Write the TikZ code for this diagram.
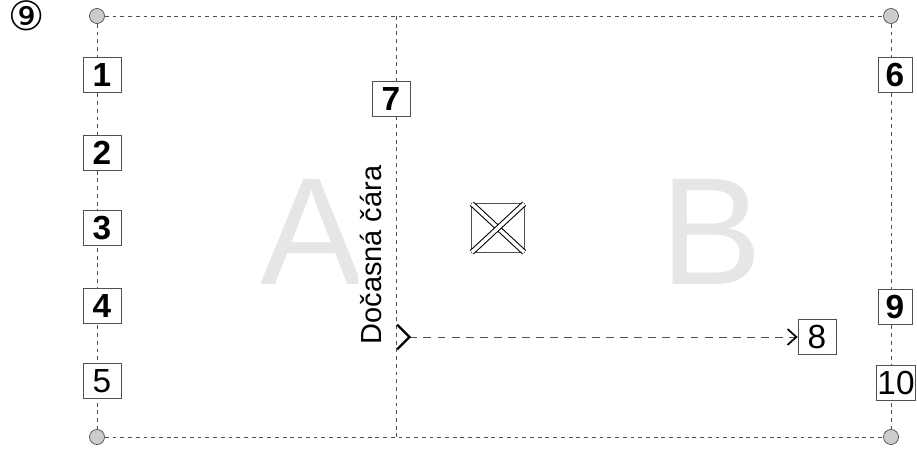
\documentclass[tikz,border=0pt]{standalone}
\usepackage{fontspec}
\setmainfont{Liberation Sans}
\newfontfamily\symfont{DejaVu Sans}
\usetikzlibrary{arrows.meta,positioning,backgrounds}
\pgfdeclarelayer{edgelayer}
\pgfdeclarelayer{nodelayer}
\pgfsetlayers{background,edgelayer,main,nodelayer}
\definecolor{linegray}{RGB}{80,80,80}
\definecolor{dotgray}{RGB}{204,204,204}
\definecolor{letgray}{RGB}{230,230,230}
\tikzstyle{corner}=[circle,draw=linegray,fill=dotgray,minimum size=0.30cm,inner sep=0pt]
\tikzstyle{numbox}=[draw=linegray,fill=white,minimum width=0.76cm,minimum height=0.70cm,inner sep=0pt,font=\fontsize{19}{19}\selectfont\bfseries]
\tikzstyle{plainbox}=[numbox,font=\fontsize{19}{19}\selectfont]
\tikzstyle{border}=[linegray,dash pattern=on 2.2pt off 2.2pt,line width=0.55pt]
\tikzstyle{bigletter}=[letgray,font=\fontsize{87}{87}\selectfont]
\tikzstyle{route}=[linegray,dash pattern=on 4.5pt off 3.5pt,line width=0.55pt]
\begin{document}
\begin{tikzpicture}[x=0.02cm,y=-0.02cm]
	\useasboundingbox (0,0) rectangle (917,449);
	% background letters
	\node [bigletter] (la) at (311,232) {A};
	\node [bigletter] (lb) at (711,232) {B};
	\begin{pgfonlayer}{nodelayer}
		\node [corner] (c1) at (97,16) {};
		\node [corner] (c2) at (891,16) {};
		\node [corner] (c3) at (97,437) {};
		\node [corner] (c4) at (891,437) {};
		\node [numbox] (n1) at (102,75) {1};
		\node [numbox] (n2) at (102,153) {2};
		\node [numbox] (n3) at (102,228) {3};
		\node [numbox] (n4) at (102,306) {4};
		\node [plainbox] (n5) at (102,381) {5};
		\node [numbox,minimum width=0.68cm] (n6) at (895,75) {6};
		\node [numbox] (n7) at (391,99) {7};
		\node [plainbox] (n8) at (817,337) {8};
		\node [numbox,minimum width=0.68cm] (n9) at (895,307) {9};
		\node [plainbox,minimum width=0.78cm] (n10) at (896,383) {10};
		\node [font=\symfont\fontsize{23}{23}\selectfont] (mark) at (27,16) {⑨};
		\node [draw=linegray,line width=1.1pt,fill=white,minimum width=1.06cm,minimum height=0.98cm,inner sep=0pt] (cross) at (498,228) {};
		\node [rotate=90,fill=white,inner sep=1pt,font=\fontsize{16.5}{16.5}\selectfont] (tmp) at (371,255) {Dočasná čára};
	\end{pgfonlayer}
	\coordinate (top) at (396,16);
	\coordinate (bot) at (396,437);
	\coordinate (start) at (396,337);
	\begin{pgfonlayer}{edgelayer}
		\draw[border] (c1) -- (c2);
		\draw[border] (c3) -- (c4);
		\draw[border] (c1) -- (c3);
		\draw[border] (c2) -- (c4);
		\draw[border] (top) -- (bot);
		\draw[route,{Straight Barb[reversed,length=7pt,width=14pt,line width=1.3pt,black]}-{Straight Barb[length=5pt,width=9pt,line width=1pt,black]}] (start) -- (n8.west);
	\end{pgfonlayer}
	\begin{pgfonlayer}{nodelayer}
		\draw[black,double=white,double distance=2pt,line width=0.6pt,shorten <=1pt,shorten >=1pt] (cross.north west) -- (cross.south east);
		\draw[black,double=white,double distance=2pt,line width=0.6pt,shorten <=1pt,shorten >=1pt] (cross.north east) -- (cross.south west);
	\end{pgfonlayer}
\end{tikzpicture}
\end{document}
